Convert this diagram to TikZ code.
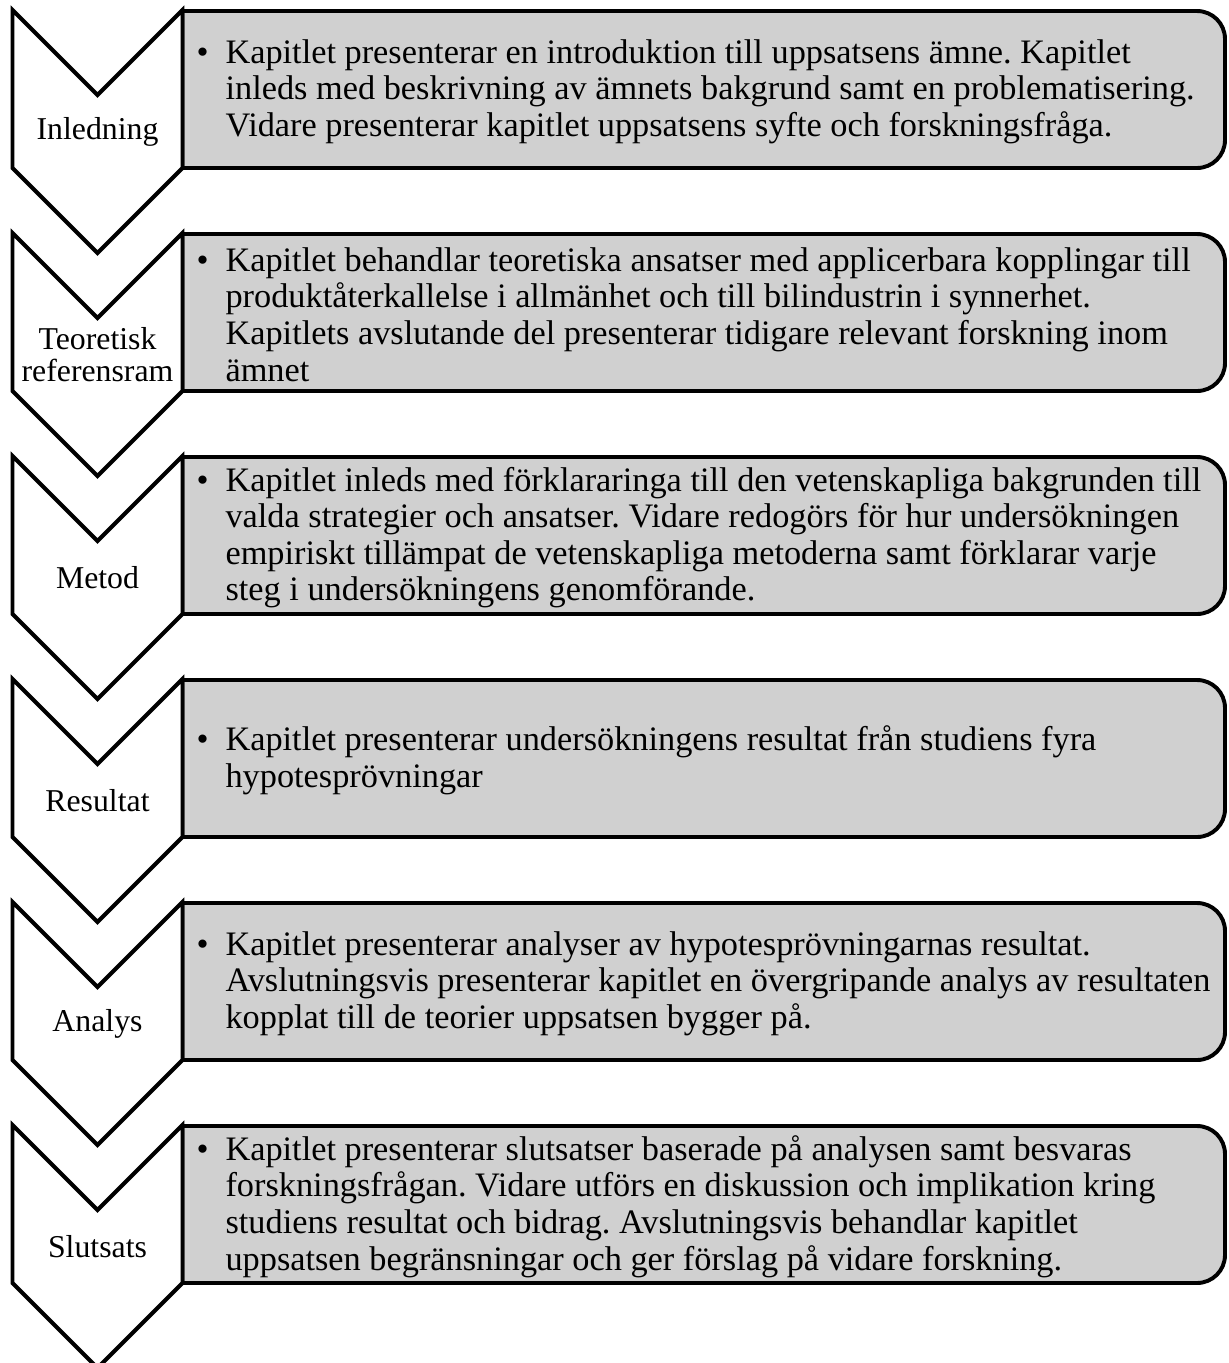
\documentclass[tikz,border=0pt]{standalone}
\usepackage{fontspec}
\setmainfont{Liberation Serif}
\frenchspacing
\definecolor{PanelGray}{HTML}{D0D0D0}

\begin{document}
\begin{tikzpicture}[
  x=0.0125cm, y=0.0125cm,
  chevron/.style={
    draw=black,
    fill=white,
    line width=1.4pt,
    line join=miter
  },
  panel/.style={
    draw=black,
    fill=PanelGray,
    line width=1.4pt
  },
  stage/.style={
    inner sep=0pt,
    align=center,
    font=\fontsize{11.3}{11.6}\selectfont
  },
  bullets/.style={
    inner sep=0pt,
    anchor=west,
    align=left,
    font=\fontsize{12.2}{13}\selectfont
  }
]
\useasboundingbox (0,0) rectangle (1228,-1363);

% panels
\draw[panel] (182.5,-11) -- (1197,-11) arc[start angle=90,end angle=0,radius=28] -- (1225,-140) arc[start angle=0,end angle=-90,radius=28] -- (182.5,-168) -- cycle;
\draw[panel] (182.5,-234) -- (1197,-234) arc[start angle=90,end angle=0,radius=28] -- (1225,-363) arc[start angle=0,end angle=-90,radius=28] -- (182.5,-391) -- cycle;
\draw[panel] (182.5,-457) -- (1197,-457) arc[start angle=90,end angle=0,radius=28] -- (1225,-586) arc[start angle=0,end angle=-90,radius=28] -- (182.5,-614) -- cycle;
\draw[panel] (182.5,-680) -- (1197,-680) arc[start angle=90,end angle=0,radius=28] -- (1225,-809) arc[start angle=0,end angle=-90,radius=28] -- (182.5,-837) -- cycle;
\draw[panel] (182.5,-903) -- (1197,-903) arc[start angle=90,end angle=0,radius=28] -- (1225,-1032) arc[start angle=0,end angle=-90,radius=28] -- (182.5,-1060) -- cycle;
\draw[panel] (182.5,-1126) -- (1197,-1126) arc[start angle=90,end angle=0,radius=28] -- (1225,-1255) arc[start angle=0,end angle=-90,radius=28] -- (182.5,-1283) -- cycle;

% chevrons
\draw[chevron] (12.5,-10) -- (97.5,-95) -- (182.5,-10) -- (182.5,-168) -- (97.5,-253) -- (12.5,-168) -- cycle;
\draw[chevron] (12.5,-233) -- (97.5,-318) -- (182.5,-233) -- (182.5,-391) -- (97.5,-476) -- (12.5,-391) -- cycle;
\draw[chevron] (12.5,-456) -- (97.5,-541) -- (182.5,-456) -- (182.5,-614) -- (97.5,-699) -- (12.5,-614) -- cycle;
\draw[chevron] (12.5,-679) -- (97.5,-764) -- (182.5,-679) -- (182.5,-837) -- (97.5,-922) -- (12.5,-837) -- cycle;
\draw[chevron] (12.5,-902) -- (97.5,-987) -- (182.5,-902) -- (182.5,-1060) -- (97.5,-1145) -- (12.5,-1060) -- cycle;
\draw[chevron] (12.5,-1125) -- (97.5,-1210) -- (182.5,-1125) -- (182.5,-1283) -- (97.5,-1368) -- (12.5,-1283) -- cycle;

\node[stage] (inledning) at (97.5,-131.5) {Inledning};
\node[stage] (teori) at (97.5,-354.5) {Teoretisk\\referensram};
\node[stage] (metod) at (97.5,-577.5) {Metod};
\node[stage] (resultat) at (97.5,-800.5) {Resultat};
\node[stage] (analys) at (97.5,-1023.5) {Analys};
\node[stage] (slutsats) at (97.5,-1246.5) {Slutsats};

\node[bullets] (inledningtxt) at (225,-91.5) {\llap{\textbullet\hspace{6pt}}Kapitlet presenterar en introduktion till uppsatsens ämne. Kapitlet\\inleds med beskrivning av ämnets bakgrund samt en problematisering.\\Vidare presenterar kapitlet uppsatsens syfte och forskningsfråga.};
\node[bullets] (teoritxt) at (225,-314.5) {\llap{\textbullet\hspace{6pt}}Kapitlet behandlar teoretiska ansatser med applicerbara kopplingar till\\produktåterkallelse i allmänhet och till bilindustrin i synnerhet.\\Kapitlets avslutande del presenterar tidigare relevant forskning inom\\ämnet};
\node[bullets] (metodtxt) at (225,-537.5) {\llap{\textbullet\hspace{6pt}}Kapitlet inleds med förklararinga till den vetenskapliga bakgrunden till\\valda strategier och ansatser. Vidare redogörs för hur undersökningen\\empiriskt tillämpat de vetenskapliga metoderna samt förklarar varje\\steg i undersökningens genomförande.};
\node[bullets] (resultattxt) at (225,-760.5) {\llap{\textbullet\hspace{6pt}}Kapitlet presenterar undersökningens resultat från studiens fyra\\hypotesprövningar};
\node[bullets] (analystxt) at (225,-983.5) {\llap{\textbullet\hspace{6pt}}Kapitlet presenterar analyser av hypotesprövningarnas resultat.\\Avslutningsvis presenterar kapitlet en övergripande analys av resultaten\\kopplat till de teorier uppsatsen bygger på.};
\node[bullets] (slutsatstxt) at (225,-1206.5) {\llap{\textbullet\hspace{6pt}}Kapitlet presenterar slutsatser baserade på analysen samt besvaras\\forskningsfrågan. Vidare utförs en diskussion och implikation kring\\studiens resultat och bidrag. Avslutningsvis behandlar kapitlet\\uppsatsen begränsningar och ger förslag på vidare forskning.};
\end{tikzpicture}
\end{document}
